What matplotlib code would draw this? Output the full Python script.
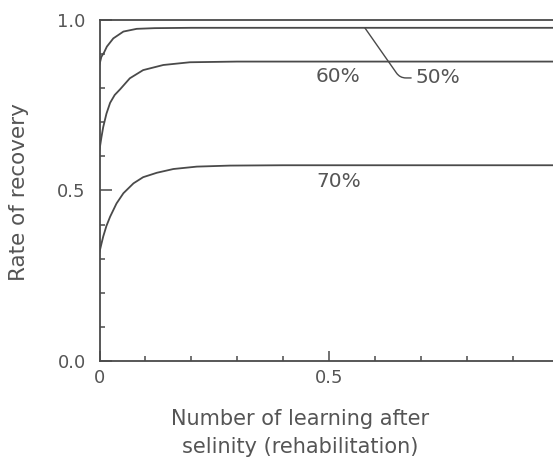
import matplotlib
matplotlib.use("Agg")
import matplotlib.pyplot as plt
from matplotlib.ticker import MultipleLocator, FixedLocator

# valores
x_50 = [0, 0.004, 0.010, 0.016, 0.030, 0.052, 0.081, 0.12, 0.2, 1.0]
y_50 = [0.87, 0.892, 0.905, 0.922, 0.946, 0.966, 0.974, 0.976, 0.977, 0.977]

x_60 = [0, 0.004, 0.008, 0.015, 0.023, 0.033, 0.045, 0.066, 0.095, 0.139, 0.197, 0.3, 1.0]
y_60 = [0.62, 0.655, 0.686, 0.725, 0.757, 0.780, 0.797, 0.829, 0.853, 0.868, 0.876, 0.878, 0.878]

x_70 = [0, 0.004, 0.008, 0.015, 0.023, 0.037, 0.052, 0.074, 0.095, 0.125, 0.161, 0.212, 0.284, 0.4, 1.0]
y_70 = [0.32, 0.343, 0.365, 0.396, 0.423, 0.462, 0.492, 0.521, 0.539, 0.552, 0.563, 0.570, 0.573, 0.574, 0.574]

etiquetas = ["50%", "60%", "70%"]

gris = "#4a4a4a"
texto = "#555555"

fig = plt.figure(figsize=(5.53, 4.59), dpi=100)
ax = fig.add_axes([0.18, 0.2135, 0.82, 0.743])

ax.plot(x_50, y_50, color=gris, lw=1.3)
ax.plot(x_60, y_60, color=gris, lw=1.3)
ax.plot(x_70, y_70, color=gris, lw=1.3)

ax.set_xlim(0, 0.988)
ax.set_ylim(0, 1.0)

for s in ["left", "bottom", "top"]:
    ax.spines[s].set_color(gris)
    ax.spines[s].set_linewidth(1.3)
ax.spines["right"].set_visible(False)

ax.xaxis.set_major_locator(FixedLocator([0, 0.5]))
ax.xaxis.set_minor_locator(MultipleLocator(0.1))
ax.yaxis.set_major_locator(FixedLocator([0, 0.5, 1.0]))
ax.yaxis.set_minor_locator(MultipleLocator(0.1))
ax.set_xticklabels(["0", "0.5"])
ax.set_yticklabels(["0.0", "0.5", "1.0"])
ax.tick_params(axis="x", which="major", direction="in", length=7, width=1.1,
               color=gris, labelsize=13, labelcolor=texto, pad=6)
ax.tick_params(axis="y", which="major", direction="in", length=8.5, width=1.1,
               color=gris, labelsize=13, labelcolor=texto, pad=10)
ax.tick_params(which="minor", direction="in", length=3.5, width=1.1, color=gris)
ax.tick_params(top=False, right=False, which="both")

ax.set_ylabel("Rate of recovery", fontsize=15.5, color=texto)
ax.yaxis.set_label_coords(-0.178, 0.495, transform=ax.transAxes)
ax.yaxis.label.set_va("center")
ax.set_xlabel("Number of learning after\nselinity (rehabilitation)",
              fontsize=15, color=texto, linespacing=1.5)
ax.xaxis.set_label_coords(0.442, -0.14, transform=ax.transAxes)
ax.xaxis.label.set_va("top")

# etiquetas de las curvas
ax.text(0.52, 0.833, etiquetas[1], fontsize=14.5, color=texto, ha="center", va="center")
ax.text(0.522, 0.525, etiquetas[2], fontsize=14.5, color=texto, ha="center", va="center")
ax.annotate(etiquetas[0], xy=(0.578, y_50[-1]), xytext=(0.688, 0.83),
            fontsize=14.5, color=texto, ha="left", va="center",
            arrowprops=dict(arrowstyle="-", color=gris, lw=1.0, relpos=(0, 0.5),
                            shrinkA=1, shrinkB=0,
                            connectionstyle="angle,angleA=180,angleB=125,rad=6"))

plt.savefig("out.png", dpi=100)
